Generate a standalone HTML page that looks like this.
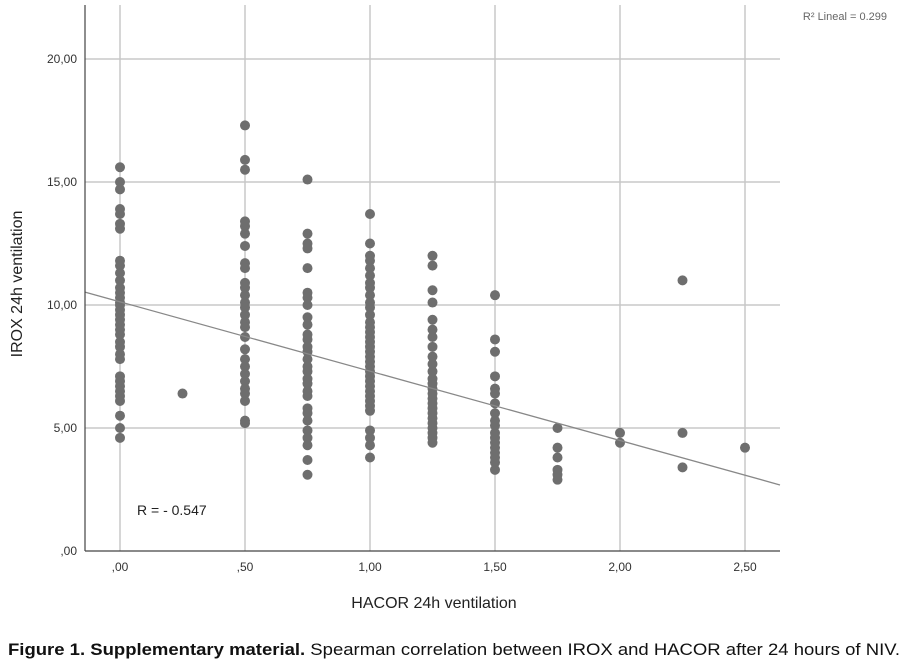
<!DOCTYPE html>
<html><head><meta charset="utf-8"><style>
body{margin:0;background:#fff;width:905px;height:663px;overflow:hidden;font-family:"Liberation Sans",Arial,sans-serif}
</style></head><body>
<svg id="chart" width="905" height="663" xmlns="http://www.w3.org/2000/svg" font-family="Liberation Sans, Arial, sans-serif">
<g id="grid"></g><g id="pts"></g><g id="axes"></g>
<text x="887" y="20" text-anchor="end" font-size="11" fill="#666">R² Lineal = 0.299</text>
<text x="137" y="515" font-size="14" fill="#222">R = - 0.547</text>
<text x="434" y="608" text-anchor="middle" font-size="16" fill="#222">HACOR 24h ventilation</text>
<text transform="translate(22,284) rotate(-90)" text-anchor="middle" font-size="16" fill="#222">IROX 24h ventilation</text>
<text x="8" y="655" font-size="17" fill="#111" textLength="892" lengthAdjust="spacingAndGlyphs"><tspan font-weight="bold">Figure 1. Supplementary material.</tspan> Spearman correlation between IROX and HACOR after 24 hours of NIV.</text>
</svg>
<script>
const xTicks=[0,0.5,1.0,1.5,2.0,2.5];
const xTickLabels=[",00",",50","1,00","1,50","2,00","2,50"];
const yTicks=[0,5,10,15,20];
const yTickLabels=[",00","5,00","10,00","15,00","20,00"];
const xGroups=[0,0.25,0.5,0.75,1.0,1.25,1.5,1.75,2.0,2.25,2.5];
const yGroups=[
[15.6,15.0,14.7,13.9,13.7,13.3,13.1,11.8,11.6,11.3,11.0,10.7,10.5,10.3,10.1,10.0,9.8,9.6,9.4,9.2,9.0,8.8,8.5,8.3,8.0,7.8,7.1,6.9,6.7,6.5,6.3,6.1,5.5,5.0,4.6],
[6.4],
[17.3,15.9,15.5,13.4,13.2,12.9,12.4,11.7,11.5,10.9,10.7,10.4,10.1,9.9,9.6,9.3,9.1,8.7,8.2,7.8,7.5,7.2,6.9,6.6,6.4,6.1,5.3,5.2],
[15.1,12.9,12.5,12.3,11.5,10.5,10.3,10.0,9.5,9.2,8.8,8.6,8.3,8.1,7.8,7.5,7.3,7.0,6.8,6.5,6.3,5.8,5.6,5.3,4.9,4.6,4.3,3.7,3.1],
[13.7,12.5,12.0,11.8,11.5,11.2,10.9,10.7,10.4,10.1,9.9,9.6,9.3,9.1,8.9,8.7,8.5,8.3,8.1,7.9,7.7,7.5,7.3,7.1,6.9,6.7,6.5,6.3,6.1,5.9,5.7,4.9,4.6,4.3,3.8],
[12.0,11.6,10.6,10.1,9.4,9.0,8.7,8.3,7.9,7.6,7.3,7.0,6.8,6.6,6.4,6.2,6.0,5.8,5.6,5.4,5.2,5.0,4.8,4.6,4.4],
[10.4,8.6,8.1,7.1,6.6,6.4,6.0,5.6,5.3,5.1,4.8,4.6,4.4,4.2,4.0,3.8,3.6,3.3],
[5.0,4.2,3.8,3.3,3.1,2.9],
[4.8,4.4],
[11.0,4.8,3.4],
[4.2]];
const fitLine=[10.13,-2.82]; // intercept, slope
const X0=85,X1=780,Y0=551,Y1=5;
const sx=v=>120+v*250, sy=v=>551-v*24.6;
const NS="http://www.w3.org/2000/svg";
function mk(parent,tag,attrs){const e=document.createElementNS(NS,tag);for(const k in attrs)e.setAttribute(k,attrs[k]);document.getElementById(parent).appendChild(e);return e;}
xTicks.forEach((t,i)=>{
 const l=mk('grid','line',{x1:sx(t),x2:sx(t),y1:Y1,y2:Y0,stroke:'#c8c8c8','stroke-width':1.5});
 
 
 const tx=mk('axes','text',{x:sx(t),y:571,'text-anchor':'middle','font-size':12,fill:'#333'});tx.textContent=xTickLabels[i];
 
 
});
yTicks.forEach((t,i)=>{
 if(t>0){const l=mk('grid','line',{x1:X0,x2:X1,y1:sy(t),y2:sy(t),stroke:'#c8c8c8','stroke-width':1.5});
 
 }
 const tx=mk('axes','text',{x:77,y:sy(t)+4,'text-anchor':'end','font-size':12,fill:'#333'});tx.textContent=yTickLabels[i];
 
 
});
xGroups.forEach((x,i)=>yGroups[i].forEach(y=>{
 const c=mk('pts','circle',{cx:sx(x),cy:sy(y),r:5,fill:'#6e6e6e'});
 
 
}));
const xa=-0.14,xb=2.64;
const fl=mk('pts','line',{x1:sx(xa),y1:sy(fitLine[0]+fitLine[1]*xa),x2:sx(xb),y2:sy(fitLine[0]+fitLine[1]*xb),stroke:'#888','stroke-width':1.3});


const ya=mk('axes','line',{x1:X0,x2:X0,y1:Y1,y2:Y0,stroke:'#444','stroke-width':1.2});


const xax=mk('axes','line',{x1:X0,x2:X1,y1:Y0,y2:Y0,stroke:'#444','stroke-width':1.2});


</script>
</body></html>
